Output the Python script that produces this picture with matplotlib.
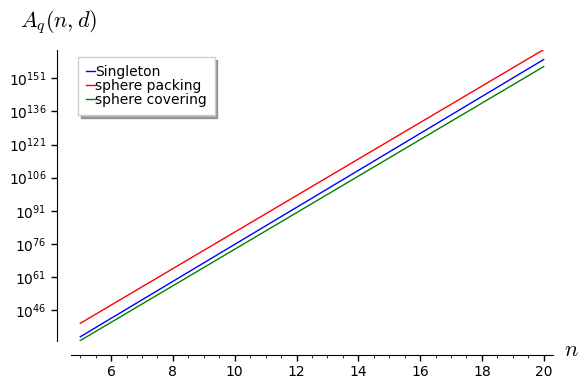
import matplotlib
matplotlib.use("Agg")
import numpy as np
import matplotlib.pyplot as plt
from matplotlib.ticker import FixedLocator, MultipleLocator

# n range and log10 of the bounds at both ends
n_vals = [5, 20]
singleton_exp = [33.9, 159.5]
packing_exp = [40.0, 164.0]
covering_exp = [32.2, 156.3]

ytick_exp = [46, 61, 76, 91, 106, 121, 136, 151]
xticks = [6, 8, 10, 12, 14, 16, 18, 20]

fig = plt.figure(figsize=(5.88, 3.89), dpi=100)
ax = fig.add_axes([0.1207, 0.1234, 0.8197, 0.748])

series = [
    ("Singleton", singleton_exp, "#0000ff"),
    ("sphere packing", packing_exp, "#ff0000"),
    ("sphere covering", covering_exp, "#008000"),
]
for label, exps, col in series:
    ax.plot(n_vals, 10.0 ** np.array(exps), color=col, lw=1, label=label)

ax.set_yscale("log")
ax.set_xlim(4.7, 20.3)
ax.set_ylim(10.0 ** 32.0, 10.0 ** 163.8)

ax.xaxis.set_major_locator(FixedLocator(xticks))
ax.xaxis.set_minor_locator(MultipleLocator(0.5))
ax.yaxis.set_major_locator(FixedLocator([10.0 ** e for e in ytick_exp]))
ax.yaxis.set_minor_locator(FixedLocator([]))
ax.set_yticklabels([f"$10^{{{e}}}$" for e in ytick_exp])

for s in ["top", "right"]:
    ax.spines[s].set_visible(False)
ax.spines["left"].set_position(("outward", 10))
ax.spines["bottom"].set_position(("outward", 10))
ax.tick_params(labelsize=10, length=4, width=1)
ax.tick_params(which="minor", length=2)

leg = ax.legend(loc="upper left", shadow=True, fancybox=False, fontsize=10,
                handlelength=0.65, handletextpad=0.05, labelspacing=0.02,
                borderpad=0.55, frameon=True, bbox_to_anchor=(0.0, 1.0))
leg.get_frame().set_edgecolor("#cccccc")

fig.text(0.099, 0.943, r"$A_q(n,d)$", fontsize=16, ha="center", va="center",
         math_fontfamily="cm")
fig.text(0.972, 0.10, r"$n$", fontsize=16, ha="center", va="center",
         math_fontfamily="cm")

fig.savefig("out.png", dpi=100)
